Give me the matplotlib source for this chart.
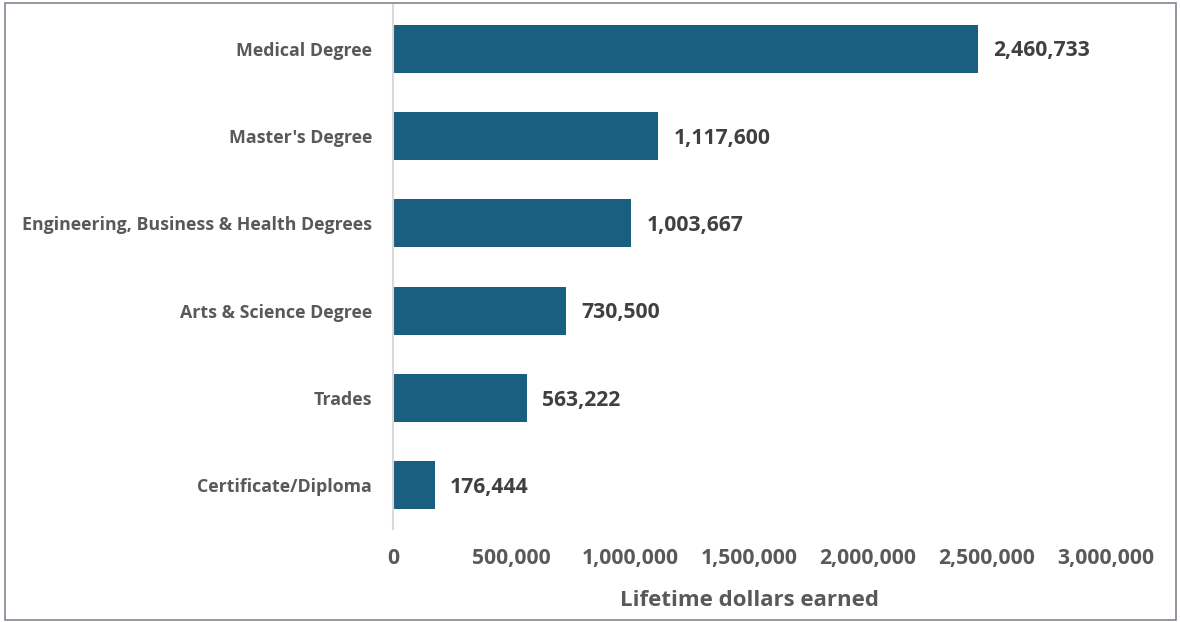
import matplotlib
matplotlib.use('Agg')
import matplotlib.pyplot as plt
from matplotlib.patches import Rectangle
from matplotlib.ticker import FuncFormatter

# === Данные ===
categories = ['Medical Degree', "Master's Degree",
              'Engineering, Business & Health Degrees',
              'Arts & Science Degree', 'Trades', 'Certificate/Diploma']
earnings = [2460733, 1117600, 1003667, 730500, 563222, 176444]
x_ticks = [0, 500000, 1000000, 1500000, 2000000, 2500000, 3000000]

BAR_COLOR = '#1b5f80'
LABEL_GRAY = '#595959'
VALUE_GRAY = '#404040'

plt.rcParams['font.family'] = ['Open Sans', 'DejaVu Sans']
plt.rcParams['font.weight'] = 'bold'

fig = plt.figure(figsize=(11.8, 6.22), dpi=100)
ax = fig.add_axes([0.333, 0.1495, 0.604, 0.8425])

y_pos = list(range(len(categories)))[::-1]
ax.barh(y_pos, earnings, height=0.55, color=BAR_COLOR, zorder=2)

# подписи значений справа от столбиков
for y, v in zip(y_pos, earnings):
    ax.annotate(f'{v:,}', xy=(v, y), xytext=(11, -1.5), textcoords='offset points',
                ha='left', va='center', fontsize=15.2, fontweight='bold',
                color=VALUE_GRAY)

ax.set_xlim(0, 3000000)
ax.set_ylim(-0.5, len(categories) - 0.5)
ax.set_xticks(x_ticks)
ax.xaxis.set_major_formatter(FuncFormatter(lambda v, p: f'{int(v):,}'))
ax.set_yticks(y_pos)
ax.set_yticklabels(categories)

ax.tick_params(axis='x', length=0, pad=14, labelsize=15.2, labelcolor=LABEL_GRAY)
ax.tick_params(axis='y', length=0, pad=15, labelsize=12.8, labelcolor=LABEL_GRAY)
for lbl in ax.get_xticklabels() + ax.get_yticklabels():
    lbl.set_fontweight('bold')

ax.set_xlabel('Lifetime dollars earned', fontsize=16, fontweight='bold',
              color=LABEL_GRAY, labelpad=15)

for side in ['top', 'right', 'bottom']:
    ax.spines[side].set_visible(False)
ax.spines['left'].set_color('#d9d9d9')
ax.spines['left'].set_linewidth(1.5)

# рамка вокруг всей картинки
fig.patches.append(Rectangle((0.004, 0.004), 0.993, 0.991, transform=fig.transFigure,
                             fill=False, edgecolor='#7f8790', linewidth=1.2))

fig.savefig('out.png', dpi=100)
